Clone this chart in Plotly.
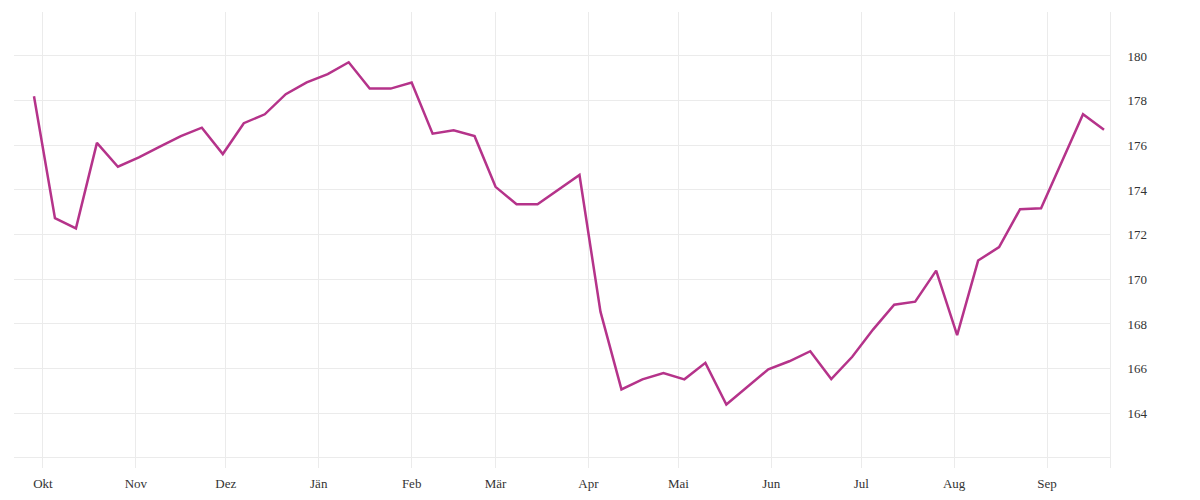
import datetime as dt
import plotly.graph_objects as go

# weekly values
start_date = dt.date(2022, 9, 28)
values = [
    178.20, 172.74, 172.28, 176.11, 175.04, 175.46, 175.94, 176.41, 176.79, 175.61,
    176.99, 177.39, 178.29, 178.82, 179.19, 179.72, 178.54, 178.54, 178.81, 176.52,
    176.67, 176.41, 174.14, 173.36, 173.36, 174.00, 174.67, 168.55, 165.07, 165.52,
    165.80, 165.52, 166.26, 164.39, 165.20, 165.97, 166.33, 166.78, 165.53, 166.53,
    167.76, 168.86, 169.00, 170.39, 167.50, 170.84, 171.44, 173.14, 173.18, 175.30,
    177.39, 176.70,
]
dates = [start_date + dt.timedelta(weeks=i) for i in range(len(values))]

month_ticks = ["2022-10-01", "2022-11-01", "2022-12-01", "2023-01-01", "2023-02-01",
               "2023-03-01", "2023-04-01", "2023-05-01", "2023-06-01", "2023-07-01",
               "2023-08-01", "2023-09-01"]
month_labels = ["Okt", "Nov", "Dez", "Jän", "Feb", "Mär", "Apr", "Mai", "Jun", "Jul",
                "Aug", "Sep"]
y_ticks = [164, 166, 168, 170, 172, 174, 176, 178, 180]
y_grid_extra = [162]

grid_color = "#ebebeb"
font = dict(family="Liberation Serif, DejaVu Serif, serif", size=13, color="#333333")

fig = go.Figure()
fig.add_trace(go.Scatter(
    x=dates, y=values, mode="lines",
    line=dict(color="#b5338a", width=2.5),
    hoverinfo="x+y", showlegend=False,
))

# the page body has an 8px margin, so the figure is 8px smaller each way
fig.update_layout(
    width=1192, height=492,
    margin=dict(l=6, r=90, t=4, b=32),
    plot_bgcolor="white", paper_bgcolor="white",
    font=font,
)
fig.update_xaxes(
    range=["2022-09-21 08:00", "2023-09-22"],
    tickmode="array", tickvals=month_ticks, ticktext=month_labels,
    showgrid=True, gridcolor=grid_color, gridwidth=1,
    zeroline=False, showline=False,
    ticks="", ticklabelstandoff=6,
)
fig.update_yaxes(
    side="right",
    range=[161.55, 181.97],
    tickmode="array", tickvals=y_grid_extra + y_ticks,
    ticktext=[""] + [str(v) for v in y_ticks],
    showgrid=True, gridcolor=grid_color, gridwidth=1,
    zeroline=False,
    showline=True, linecolor=grid_color, linewidth=1,
    ticks="", ticklabelstandoff=14,
)

fig.write_html("out.html")
